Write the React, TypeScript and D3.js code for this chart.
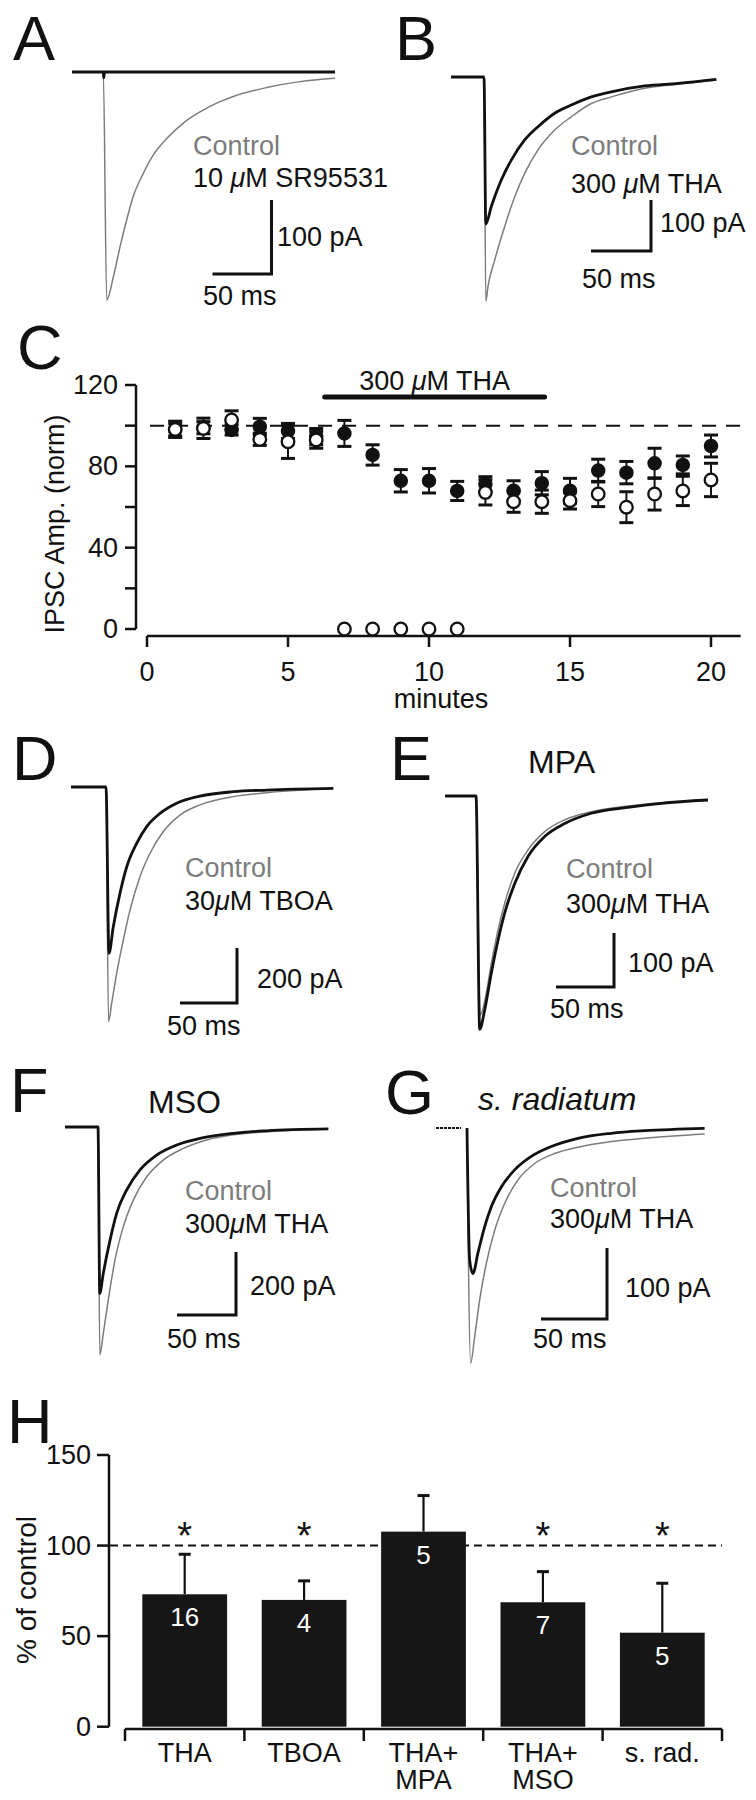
import React from 'react';
import * as d3 from 'd3';

type Pt = [number, number];

const FONT = '"Liberation Sans", Arial, Helvetica, sans-serif';
const GRAY = '#7c7c7c';
const INK = '#111';

// ---------- Traces: [time ms from stimulus, current pA] ----------
const ctrlA: Pt[] = [[-26.5, 0], [0, 0], [2.9, -308], [8.5, -277], [14.2, -236], [19.8, -200], [25.4, -168], [33.9, -137], [42.4, -112], [53.7, -90], [67.8, -69], [81.9, -54], [96.1, -42], [110.2, -33], [138.5, -21], [166.7, -13], [196.4, -8.5]];
const drugA: Pt[] = [[-26.5, 0], [0, 0], [0.4, -8], [1, 0], [196.4, 0]];

const ctrlB: Pt[] = [[-27.5, 0], [0, 0], [1.5, -440], [3.3, -411], [8.9, -359], [17.25, -293], [25.6, -235], [33.9, -189], [45, -143], [58.9, -104], [72.75, -78], [89.4, -52], [106.1, -39], [133.9, -22], [161.7, -14], [193.6, -6]];
const drugB: Pt[] = [[-27.5, 0], [0, 0], [1.5, -288], [6.1, -254], [14.4, -202], [22.75, -163], [33.9, -123.5], [45, -97.5], [58.9, -71], [72.75, -55], [89.4, -39], [106.1, -29], [133.9, -17.6], [161.7, -12.4], [193.6, -4.5]];

const ctrlD: Pt[] = [[-30.7, 0], [0, 0], [2.2, -853], [5, -786], [9.4, -677], [15.2, -556], [21.1, -447], [29.8, -326], [38.6, -241], [50.3, -162], [64.9, -102], [82.5, -65], [111.7, -35], [141, -21], [199.4, -5]];
const drugD: Pt[] = [[-30.7, 0], [0, 0], [2.6, -605], [6.4, -508], [12.3, -386], [18.2, -290], [26.9, -205], [35.7, -144], [47.4, -96], [62, -59], [82.5, -33], [111.7, -17], [141, -11], [199.4, -5]];

const ctrlE: Pt[] = [[-26.7, 0], [0, 0], [3.5, -406], [8.9, -365], [13.2, -310], [19, -248], [24.7, -199], [33.4, -143], [44.8, -100], [59.2, -66], [76.5, -44], [99.4, -29], [131, -18.5], [159.7, -12.4], [200, -7.4]];
const drugE: Pt[] = [[-26.7, 0], [0, 0], [3.2, -432], [7.5, -396], [13.2, -328], [19, -267], [24.7, -217], [33.4, -162], [44.8, -112], [59.2, -75], [76.5, -51], [99.4, -32], [131, -21], [159.7, -13.5], [200, -7.4]];

const ctrlF: Pt[] = [[-28, 0], [0, 0], [1.5, -724], [4.5, -655], [8.7, -549], [14.4, -422], [21.4, -317], [29.9, -232], [41.3, -158], [55.3, -105], [72.3, -68], [92.1, -41], [114.7, -25], [143, -15], [195.2, -6]];
const drugF: Pt[] = [[-28, 0], [0, 0], [1.5, -528], [4.5, -464], [10.2, -359], [15.8, -274], [24.3, -200], [35.6, -136], [49.7, -89], [66.7, -57], [86.4, -36], [114.7, -20], [143, -12], [195.2, -6]];

const preG: Pt[] = [[-23.5, 0], [-4.5, 0]];
const ctrlG: Pt[] = [[0, 0], [2.8, -331], [5.8, -294], [9.6, -242], [14.6, -191], [21, -144], [28.6, -106], [38.6, -73], [51.3, -50], [66.4, -36], [84.1, -27], [109.3, -19], [134.6, -14.5], [180, -8.5]];
const drugG: Pt[] = [[0, 0], [2, -186], [4.5, -205], [8.3, -176], [13.4, -139], [18.4, -111], [26, -83], [36.1, -59], [48.7, -40], [63.9, -26], [84.1, -14.5], [109.3, -7.5], [134.6, -3.8], [180, -0.4]];

// ---------- Panel C: time course ----------
const minutes = [1, 2, 3, 4, 5, 6, 7, 8, 9, 10, 11, 12, 13, 14, 15, 16, 17, 18, 19, 20];
const filledMean = [98, 99, 97.9, 99.5, 97.4, 94.6, 96.2, 85.6, 72.9, 72.9, 67.9, 71.3, 68.0, 71.7, 68.0, 77.9, 76.9, 81.5, 80.7, 90.0];
const filledSem = [3, 3, 2.5, 4.1, 3.7, 4, 6.4, 5, 5.5, 6, 4.7, 3.6, 4.9, 5.7, 6.1, 5.6, 5.5, 7.4, 4.4, 5.4];
const openMean = [98.2, 98.7, 102.8, 93.3, 92.1, 93.0, 0, 0, 0, 0, 0, 67.2, 62.6, 62.6, 63.1, 66.4, 59.9, 66.4, 67.9, 73.3];
const openSem = [4, 5, 4.5, 3, 8.2, 4.1, 0, 0, 0, 0, 0, 6.2, 5.2, 5.7, 4.1, 6.2, 7.6, 7.9, 7.2, 8.2];
const thaPeriod = [6.3, 14.1];
const cTicksY = [0, 40, 80, 120];
const cMinorY = [20, 60, 100];
const cTicksX = [0, 5, 10, 15, 20];

// ---------- Panel H: summary ----------
const hCategories = ['THA', 'TBOA', 'THA+MPA', 'THA+MSO', 's. rad.'];
const hLabelLines = [['THA'], ['TBOA'], ['THA+', 'MPA'], ['THA+', 'MSO'], ['s. rad.']];
const hMeans = [73.1, 70.0, 107.7, 68.7, 51.9];
const hSem = [22.1, 10.5, 19.9, 16.9, 27.3];
const hN = [16, 4, 5, 7, 5];
const hSig = [true, true, false, true, true];
const hTicksY = [0, 50, 100, 150];

// ---------- layout ----------
const traceLayouts = [
  { ctrl: ctrlA, drug: drugA, pre: null, stimX: 103.3, baseY: 72, kx: 1.18, ky: 0.74, barPA: 100, barX: 271.5, barY: 274,
    ctrlPos: [193, 155], drugLabel: '10 μM SR95531', drugPos: [193, 187], paPos: [277, 246], msPos: [203, 305] },
  { ctrl: ctrlB, drug: drugB, pre: null, stimX: 484, baseY: 77, kx: 1.2, ky: 0.51, barPA: 100, barX: 651, barY: 251,
    ctrlPos: [571, 155], drugLabel: '300 μM THA', drugPos: [571, 193], paPos: [660, 232], msPos: [582, 288] },
  { ctrl: ctrlD, drug: drugD, pre: null, stimX: 106, baseY: 787, kx: 1.14, ky: 0.275, barPA: 200, barX: 237, barY: 1003,
    ctrlPos: [185, 877], drugLabel: '30μM TBOA', drugPos: [185, 910], paPos: [257, 988], msPos: [167, 1035] },
  { ctrl: ctrlE, drug: drugE, pre: null, stimX: 476, baseY: 796, kx: 1.16, ky: 0.54, barPA: 100, barX: 614, barY: 987,
    ctrlPos: [566, 878], drugLabel: '300μM THA', drugPos: [566, 913], paPos: [628, 972], msPos: [550, 1018] },
  { ctrl: ctrlF, drug: drugF, pre: null, stimX: 98, baseY: 1127, kx: 1.18, ky: 0.315, barPA: 200, barX: 236, barY: 1315,
    ctrlPos: [185, 1200], drugLabel: '300μM THA', drugPos: [185, 1233], paPos: [250, 1295], msPos: [167, 1348] },
  { ctrl: ctrlG, drug: drugG, pre: preG, stimX: 467, baseY: 1128, kx: 1.32, ky: 0.71, barPA: 100, barX: 607, barY: 1319,
    ctrlPos: [550, 1197], drugLabel: '300μM THA', drugPos: [550, 1228], paPos: [625, 1297], msPos: [533, 1348] },
];

const letters = [
  ['A', 13, 60], ['B', 395, 60], ['C', 17, 369], ['D', 12, 780], ['E', 390, 780],
  ['F', 10, 1112], ['G', 385, 1114], ['H', 7, 1443],
];

const titles = [
  { text: 'MPA', x: 528, y: 773, italic: false },
  { text: 'MSO', x: 148, y: 1113, italic: false },
  { text: 's. radiatum', x: 478, y: 1110, italic: true },
];

function MuText({ text, x, y, size, fill }: any) {
  const parts = text.split('μ');
  return (
    <text x={x} y={y} fontSize={size} fill={fill} fontFamily={FONT}>
      {parts.map((p: string, i: number) => (
        <React.Fragment key={i}>
          {i > 0 && <tspan fontStyle="italic">μ</tspan>}
          <tspan>{p}</tspan>
        </React.Fragment>
      ))}
    </text>
  );
}

function TracePanel({ p }: any) {
  const x = d3.scaleLinear().domain([0, 50]).range([p.stimX, p.stimX + 50 * p.kx]);
  const y = d3.scaleLinear().domain([0, -p.barPA]).range([p.baseY, p.baseY + p.barPA * p.ky]);
  const line = d3.line<Pt>().x(d => x(d[0])).y(d => y(d[1])).curve(d3.curveMonotoneX);
  const hLen = x(50) - x(0);
  const vLen = y(-p.barPA) - y(0);
  return (
    <g>
      <path d={line(p.ctrl) || ''} fill="none" stroke={GRAY} strokeWidth={1.5} />
      {p.pre && <path d={line(p.pre) || ''} fill="none" stroke={INK} strokeWidth={1.8} strokeDasharray="3 1" />}
      <path d={line(p.drug) || ''} fill="none" stroke={INK} strokeWidth={2.8} strokeLinejoin="round" />
      <path d={`M${p.barX - hLen},${p.barY}H${p.barX}V${p.barY - vLen}`} fill="none" stroke={INK} strokeWidth={3} />
      <text x={p.ctrlPos[0]} y={p.ctrlPos[1]} fontSize={27} fill={GRAY} fontFamily={FONT}>Control</text>
      <MuText text={p.drugLabel} x={p.drugPos[0]} y={p.drugPos[1]} size={27} fill={INK} />
      <text x={p.paPos[0]} y={p.paPos[1]} fontSize={27} fill={INK} fontFamily={FONT}>{`${p.barPA} pA`}</text>
      <text x={p.msPos[0]} y={p.msPos[1]} fontSize={27} fill={INK} fontFamily={FONT}>50 ms</text>
    </g>
  );
}

function PanelC() {
  const cx = d3.scaleLinear().domain([0, 20]).range([147, 711]);
  const cy = d3.scaleLinear().domain([0, 120]).range([629, 385]);
  const axisY = 636;
  const yAxisX = 136;
  const cap = 7;
  const errBar = (t: number, m: number, s: number, key: string) => (
    <g key={key} stroke={INK}>
      <line x1={cx(t)} x2={cx(t)} y1={cy(m - s)} y2={cy(m + s)} strokeWidth={2} />
      <line x1={cx(t) - cap} x2={cx(t) + cap} y1={cy(m + s)} y2={cy(m + s)} strokeWidth={3} />
      <line x1={cx(t) - cap} x2={cx(t) + cap} y1={cy(m - s)} y2={cy(m - s)} strokeWidth={3} />
    </g>
  );
  return (
    <g fontFamily={FONT}>
      {/* y axis */}
      <line x1={yAxisX} x2={yAxisX} y1={cy(0)} y2={cy(120)} stroke={INK} strokeWidth={2.5} />
      {[...cTicksY, ...cMinorY].map(v => (
        <line key={'t' + v} x1={yAxisX - 11} x2={yAxisX} y1={cy(v)} y2={cy(v)} stroke={INK} strokeWidth={2.5} />
      ))}
      {cTicksY.map(v => (
        <text key={'l' + v} x={118} y={cy(v) + 9} fontSize={27} textAnchor="end" fill={INK}>{v}</text>
      ))}
      <text transform={`translate(64,524) rotate(-90)`} fontSize={27} textAnchor="middle" fill={INK}>IPSC Amp. (norm)</text>
      {/* x axis */}
      <line x1={cx(0)} x2={cx(21.05)} y1={axisY} y2={axisY} stroke={INK} strokeWidth={2.5} />
      {cTicksX.map(v => (
        <g key={'x' + v}>
          <line x1={cx(v)} x2={cx(v)} y1={axisY} y2={axisY + 11} stroke={INK} strokeWidth={2.5} />
          <text x={cx(v)} y={681} fontSize={27} textAnchor="middle" fill={INK}>{v}</text>
        </g>
      ))}
      <text x={441} y={708} fontSize={27} textAnchor="middle" fill={INK}>minutes</text>
      {/* dashed 100% line */}
      <line x1={150} x2={741} y1={cy(100)} y2={cy(100)} stroke={INK} strokeWidth={2} strokeDasharray="14 10" />
      {/* THA application bar */}
      <line x1={cx(thaPeriod[0])} x2={cx(thaPeriod[1])} y1={397} y2={397} stroke={INK} strokeWidth={5} strokeLinecap="round" />
      <text x={(cx(thaPeriod[0]) + cx(thaPeriod[1])) / 2} y={390} fontSize={27} textAnchor="middle" fill={INK}>
        300 <tspan fontStyle="italic">μ</tspan>M THA
      </text>
      {/* error bars */}
      {minutes.map((t, i) => errBar(t, filledMean[i], filledSem[i], 'fe' + i))}
      {minutes.map((t, i) => openSem[i] > 0 ? errBar(t, openMean[i], openSem[i], 'oe' + i) : null)}
      {/* points */}
      {minutes.map((t, i) => (
        <circle key={'f' + i} cx={cx(t)} cy={cy(filledMean[i])} r={6.5} fill={INK} stroke={INK} strokeWidth={1.5} />
      ))}
      {minutes.map((t, i) => (
        <circle key={'o' + i} cx={cx(t)} cy={cy(openMean[i])} r={6.3} fill="#fff" stroke={INK} strokeWidth={2.3} />
      ))}
    </g>
  );
}

function PanelH() {
  const band = d3.scaleBand().domain(hCategories).range([125, 722]).paddingInner(0.29).paddingOuter(0.145);
  const hy = d3.scaleLinear().domain([0, 150]).range([1726.7, 1455]);
  const axisY = 1729;
  const yAxisX = 109;
  const bw = band.bandwidth();
  return (
    <g fontFamily={FONT}>
      {/* dashed 100% line */}
      <line x1={110} x2={722} y1={hy(100)} y2={hy(100)} stroke={INK} strokeWidth={2} strokeDasharray="8 5" />
      {/* bars */}
      {hCategories.map((c, i) => {
        const x0 = band(c) as number;
        const cxm = x0 + bw / 2;
        const top = hy(hMeans[i]);
        const et = hy(hMeans[i] + hSem[i]);
        return (
          <g key={c}>
            <line x1={cxm} x2={cxm} y1={top} y2={et} stroke={INK} strokeWidth={2.2} />
            <line x1={cxm - 6} x2={cxm + 6} y1={et} y2={et} stroke={INK} strokeWidth={3} />
            <rect x={x0} y={top} width={bw} height={hy(0) - top} fill="#161616" />
            <text x={cxm} y={top + 32} fontSize={26} fill="#fff" textAnchor="middle">{hN[i]}</text>
            {hSig[i] && (
              <text x={cxm} y={hy(110) + 22} fontSize={38} fill={INK} textAnchor="middle">*</text>
            )}
            {hLabelLines[i].map((s, j) => (
              <text key={j} x={cxm} y={1762 + j * 27} fontSize={27} fill={INK} textAnchor="middle">{s}</text>
            ))}
          </g>
        );
      })}
      {/* axes */}
      <line x1={yAxisX} x2={yAxisX} y1={hy(0)} y2={hy(150)} stroke={INK} strokeWidth={2.5} />
      {hTicksY.map(v => (
        <g key={v}>
          <line x1={yAxisX - 12} x2={yAxisX} y1={hy(v)} y2={hy(v)} stroke={INK} strokeWidth={2.5} />
          <text x={91} y={hy(v) + 9} fontSize={27} textAnchor="end" fill={INK}>{v}</text>
        </g>
      ))}
      <text transform={`translate(36,1590) rotate(-90)`} fontSize={28} textAnchor="middle" fill={INK}>% of control</text>
      <line x1={band.range()[0]} x2={band.range()[1]} y1={axisY} y2={axisY} stroke={INK} strokeWidth={2.5} />
      {d3.range(hCategories.length + 1).map(i => {
        const xt = band.range()[0] + i * band.step();
        return <line key={i} x1={xt} x2={xt} y1={axisY} y2={axisY + 12} stroke={INK} strokeWidth={2.5} />;
      })}
    </g>
  );
}

export default function App() {
  return (
    <svg width={756} height={1800} viewBox="0 0 756 1800"
      style={{ position: 'absolute', left: 0, top: 0, background: '#fff' }}>
      <rect x={0} y={0} width={756} height={1800} fill="#fff" />
      {letters.map(([t, x, y]) => (
        <text key={t as string} x={x as number} y={y as number} fontSize={63} fontFamily={FONT} fill={INK}>{t}</text>
      ))}
      {titles.map(t => (
        <text key={t.text} x={t.x} y={t.y} fontSize={32} fontFamily={FONT} fill={INK}
          fontStyle={t.italic ? 'italic' : 'normal'}>{t.text}</text>
      ))}
      {traceLayouts.map((p, i) => <TracePanel key={i} p={p} />)}
      <PanelC />
      <PanelH />
    </svg>
  );
}
